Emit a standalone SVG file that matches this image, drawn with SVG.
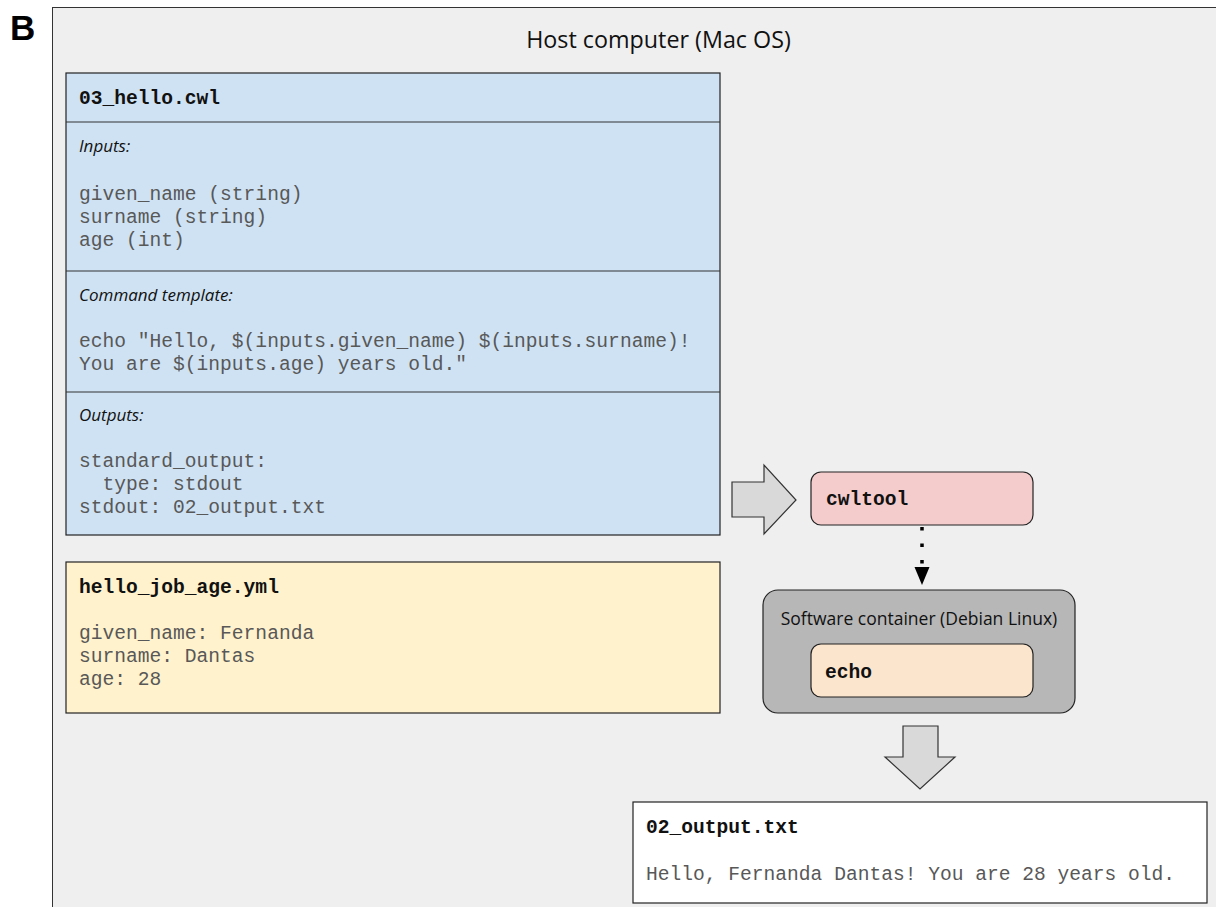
<svg xmlns="http://www.w3.org/2000/svg" width="1216" height="907" viewBox="0 0 1216 907">
  <style>
    .mono { font-family: "Liberation Mono", "Courier New", monospace; font-size: 19.6px; fill: #585858; }
    .monob { font-family: "Liberation Mono", "Courier New", monospace; font-size: 19.6px; font-weight: bold; fill: #111; }
    .lab { font-family: "Open Sans", "Noto Sans", sans-serif; font-size: 17px; font-style: italic; fill: #111; }
    .sans { font-family: "Open Sans", "Noto Sans", sans-serif; fill: #111; }
    .box { stroke: #222; stroke-width: 1.2; }
    .blk { fill: #d9d9d9; stroke: #333; stroke-width: 1.2; }
  </style>
  <rect width="1216" height="907" fill="#ffffff"/>
  <text x="10" y="40" font-family="Liberation Sans, Arial, sans-serif" font-size="35" font-weight="bold" fill="#000">B</text>

  <g id="host">
    <rect x="52.5" y="7.5" width="1180" height="920" fill="#efefef" stroke="#333" stroke-width="1"/>
    <text class="sans" x="658.5" y="48" font-size="23.3" text-anchor="middle">Host computer (Mac OS)</text>
  </g>

  <g id="cwl">
    <rect class="box" x="66" y="73" width="654" height="462" fill="#cfe2f3"/>
    <line x1="66" y1="122" x2="720" y2="122" stroke="#333" stroke-width="1.2"/>
    <line x1="66" y1="271" x2="720" y2="271" stroke="#333" stroke-width="1.2"/>
    <line x1="66" y1="392" x2="720" y2="392" stroke="#333" stroke-width="1.2"/>
    <text class="monob" x="79" y="104">03_hello.cwl</text>
    <text class="lab" x="79" y="152">Inputs:</text>
    <text class="mono" x="79" y="200">given_name (string)</text>
    <text class="mono" x="79" y="223">surname (string)</text>
    <text class="mono" x="79" y="246">age (int)</text>
    <text class="lab" x="79" y="301">Command template:</text>
    <text class="mono" x="79" y="347">echo "Hello, $(inputs.given_name) $(inputs.surname)!</text>
    <text class="mono" x="79" y="370">You are $(inputs.age) years old."</text>
    <text class="lab" x="79" y="421">Outputs:</text>
    <text class="mono" x="79" y="467" xml:space="preserve">standard_output:</text>
    <text class="mono" x="79" y="490" xml:space="preserve">  type: stdout</text>
    <text class="mono" x="79" y="513">stdout: 02_output.txt</text>
  </g>

  <g id="job">
    <rect class="box" x="66" y="562" width="654" height="151" fill="#fff2cc"/>
    <text class="monob" x="79" y="593">hello_job_age.yml</text>
    <text class="mono" x="79" y="639">given_name: Fernanda</text>
    <text class="mono" x="79" y="662">surname: Dantas</text>
    <text class="mono" x="79" y="685">age: 28</text>
  </g>

  <g id="cwltool">
    <rect class="box" x="811" y="472" width="222" height="53" rx="10" fill="#f4cccc"/>
    <text class="monob" x="826" y="505">cwltool</text>
  </g>

  <g id="container">
    <rect class="box" x="763" y="590" width="312" height="123" rx="15" fill="#b7b7b7"/>
    <text class="sans" x="919" y="625" font-size="17.5" text-anchor="middle">Software container (Debian Linux)</text>
  </g>

  <g id="echo">
    <rect class="box" x="811" y="644" width="222" height="53" rx="10" fill="#fce5cd"/>
    <text class="monob" x="825" y="678">echo</text>
  </g>

  <g id="output">
    <rect class="box" x="633" y="802" width="574" height="101" fill="#ffffff"/>
    <text class="monob" x="646" y="833">02_output.txt</text>
    <text class="mono" x="646" y="880">Hello, Fernanda Dantas! You are 28 years old.</text>
  </g>

  <g id="connectors">
    <path class="blk" d="M732,482 L764,482 L764,465 L796,500 L764,534 L764,517 L732,517 Z"/>
    <line x1="922" y1="527" x2="922" y2="567" stroke="#000" stroke-width="3.5" stroke-dasharray="3.5,13"/>
    <path d="M914.5,567 L929.5,567 L922,585 Z" fill="#000"/>
    <path class="blk" d="M903,726 L938,726 L938,757 L955,757 L920,789 L885,757 L903,757 Z"/>
  </g>
</svg>
